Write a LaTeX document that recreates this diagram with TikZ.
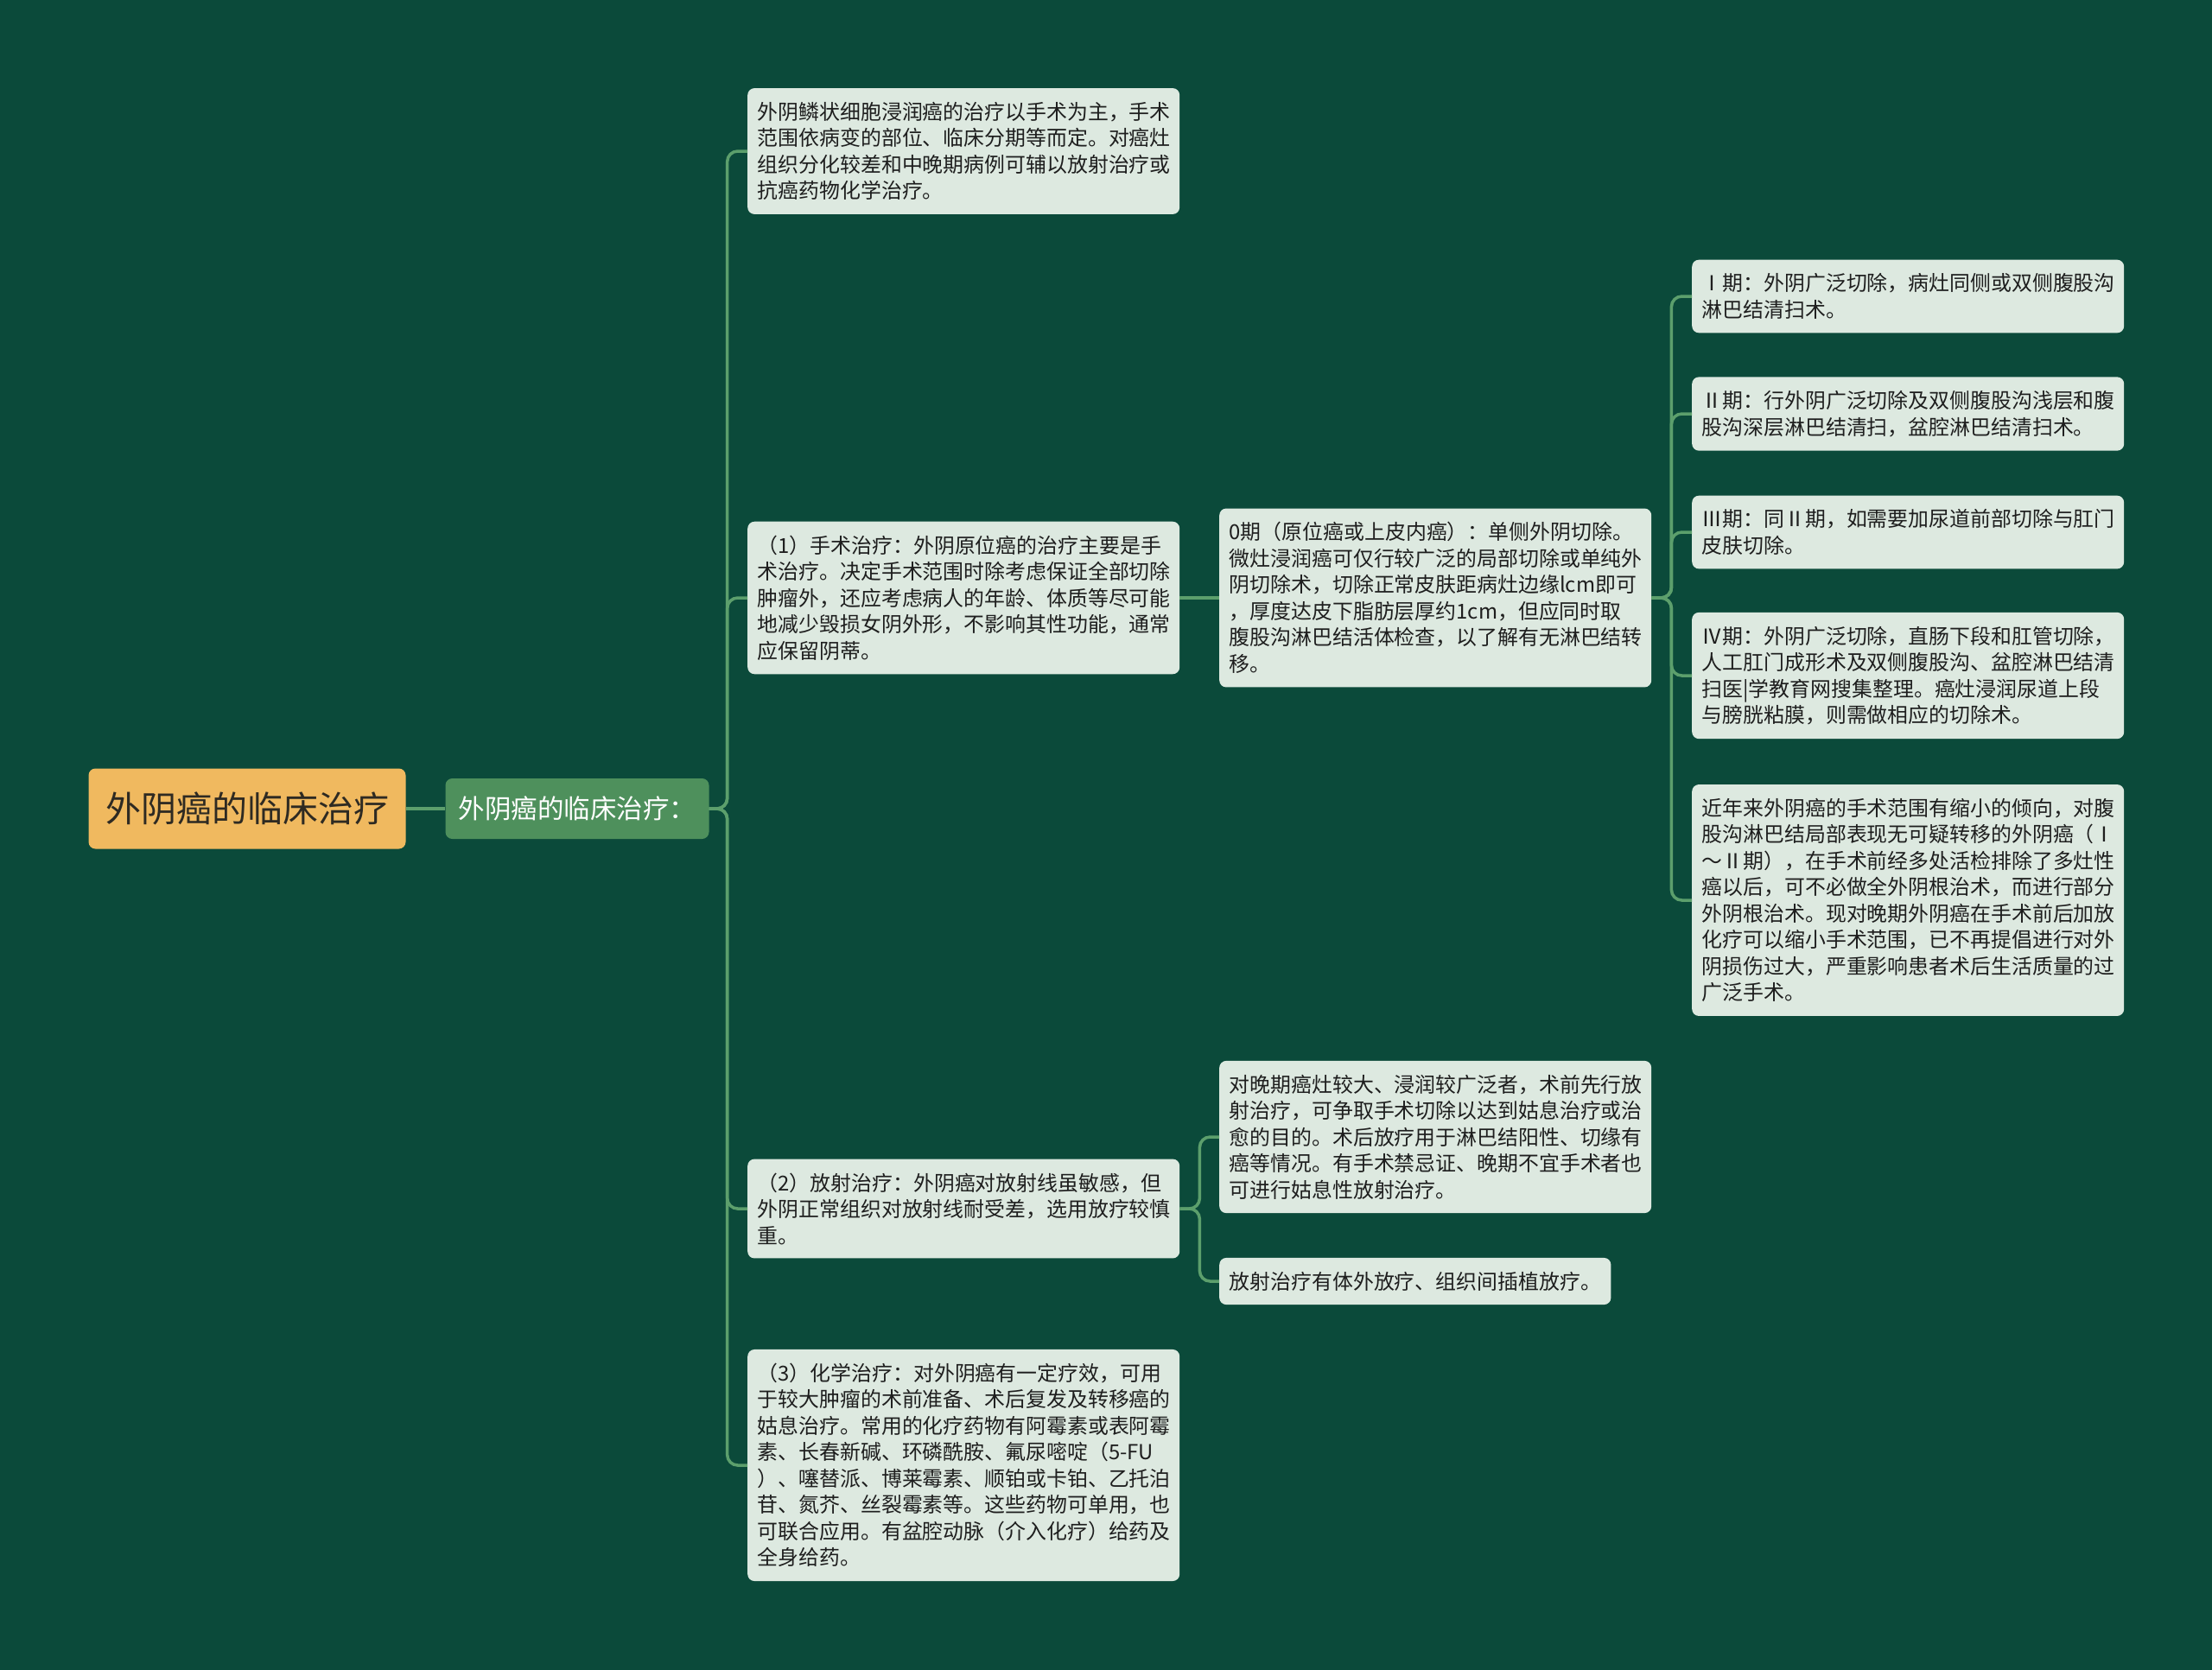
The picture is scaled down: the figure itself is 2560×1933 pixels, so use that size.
\documentclass[tikz,border=0pt]{standalone}
\usepackage{fontspec}
\setmainfont{Noto Sans CJK SC}
\usepackage{tikz}
\usetikzlibrary{positioning,calc}
\usepackage{xcolor}
\definecolor{mapbg}{HTML}{0B4A3A}
\definecolor{rootfill}{HTML}{F0B95F}
\definecolor{rootink}{HTML}{2E2A22}
\definecolor{topicfill}{HTML}{4E905C}
\definecolor{notefill}{HTML}{DDE9E0}
\definecolor{noteink}{HTML}{1E1E1E}
\definecolor{linkgreen}{HTML}{5C9F6C}

\begin{document}
\begin{tikzpicture}[
  x=1pt, y=-1pt,
  rootbox/.style={
    fill=rootfill,
    rounded corners=8pt,
    minimum width=367pt,
    minimum height=93pt,
    inner sep=0pt,
    text=rootink,
    font=\fontsize{41pt}{48pt}\selectfont
  },
  topicbox/.style={
    fill=topicfill,
    rounded corners=8pt,
    minimum width=305pt,
    minimum height=70pt,
    inner sep=0pt,
    text=white,
    font=\fontsize{30.5pt}{36pt}\selectfont
  },
  notebox/.style={
    fill=notefill,
    rounded corners=8pt,
    text=noteink,
    text width=477pt,
    inner xsep=11.5pt,
    inner ysep=16pt,
    align=left,
    anchor=west,
    font=\fontsize{23.9pt}{30.5pt}\selectfont
  },
  noteshort/.style={
    fill=notefill,
    rounded corners=8pt,
    text=noteink,
    inner xsep=11.5pt,
    inner ysep=16pt,
    anchor=west,
    font=\fontsize{23.9pt}{30.5pt}\selectfont
  },
  link/.style={
    draw=linkgreen,
    line width=3.5pt,
    rounded corners=12pt
  }
]

  % ---------------------------------------------------------------------------
  % Canvas
  % ---------------------------------------------------------------------------
  \fill[mapbg] (0,0) rectangle (2560,1933);

  % ---------------------------------------------------------------------------
  % Root and topic
  % ---------------------------------------------------------------------------
  \node[rootbox] (root) at (286,936) {外阴癌的临床治疗};
  \node[topicbox] (topic) at (668,936) {外阴癌的临床治疗：};

  % ---------------------------------------------------------------------------
  % Second level
  % ---------------------------------------------------------------------------
  \node[notebox] (principle) at (865,175) {
    外阴鳞状细胞浸润癌的治疗以手术为主，手术\\
    范围依病变的部位、临床分期等而定。对癌灶\\
    组织分化较差和中晚期病例可辅以放射治疗或\\
    抗癌药物化学治疗。};

  \node[notebox] (surgery) at (865,692) {
    （1）手术治疗：外阴原位癌的治疗主要是手\\
    术治疗。决定手术范围时除考虑保证全部切除\\
    肿瘤外，还应考虑病人的年龄、体质等尽可能\\
    地减少毁损女阴外形，不影响其性功能，通常\\
    应保留阴蒂。};

  \node[notebox] (radio) at (865,1399) {
    （2）放射治疗：外阴癌对放射线虽敏感，但\\
    外阴正常组织对放射线耐受差，选用放疗较慎\\
    重。};

  \node[notebox] (chemo) at (865,1696) {
    （3）化学治疗：对外阴癌有一定疗效，可用\\
    于较大肿瘤的术前准备、术后复发及转移癌的\\
    姑息治疗。常用的化疗药物有阿霉素或表阿霉\\
    素、长春新碱、环磷酰胺、氟尿嘧啶（5-FU\\
    ）、噻替派、博莱霉素、顺铂或卡铂、乙托泊\\
    苷、氮芥、丝裂霉素等。这些药物可单用，也\\
    可联合应用。有盆腔动脉（介入化疗）给药及\\
    全身给药。};

  % ---------------------------------------------------------------------------
  % Third level
  % ---------------------------------------------------------------------------
  \node[notebox] (stage0) at (1411,692) {
    0期（原位癌或上皮内癌）：单侧外阴切除。\\
    微灶浸润癌可仅行较广泛的局部切除或单纯外\\
    阴切除术，切除正常皮肤距病灶边缘lcm即可\\
    ，厚度达皮下脂肪层厚约1cm，但应同时取\\
    腹股沟淋巴结活体检查，以了解有无淋巴结转\\
    移。};

  \node[notebox] (radiolate) at (1411,1316) {
    对晚期癌灶较大、浸润较广泛者，术前先行放\\
    射治疗，可争取手术切除以达到姑息治疗或治\\
    愈的目的。术后放疗用于淋巴结阳性、切缘有\\
    癌等情况。有手术禁忌证、晚期不宜手术者也\\
    可进行姑息性放射治疗。};

  \node[noteshort] (radiokind) at (1411,1483) {放射治疗有体外放疗、组织间插植放疗。};

  % ---------------------------------------------------------------------------
  % Fourth level
  % ---------------------------------------------------------------------------
  \node[notebox] (stage1) at (1958,343) {
    Ⅰ期：外阴广泛切除，病灶同侧或双侧腹股沟\\
    淋巴结清扫术。};

  \node[notebox] (stage2) at (1958,479) {
    Ⅱ期：行外阴广泛切除及双侧腹股沟浅层和腹\\
    股沟深层淋巴结清扫，盆腔淋巴结清扫术。};

  \node[notebox] (stage3) at (1958,616) {
    Ⅲ期：同Ⅱ期，如需要加尿道前部切除与肛门\\
    皮肤切除。};

  \node[notebox] (stage4) at (1958,782) {
    Ⅳ期：外阴广泛切除，直肠下段和肛管切除，\\
    人工肛门成形术及双侧腹股沟、盆腔淋巴结清\\
    扫医|学教育网搜集整理。癌灶浸润尿道上段\\
    与膀胱粘膜，则需做相应的切除术。};

  \node[notebox] (trend) at (1958,1042) {
    近年来外阴癌的手术范围有缩小的倾向，对腹\\
    股沟淋巴结局部表现无可疑转移的外阴癌（Ⅰ\\
    ～Ⅱ期），在手术前经多处活检排除了多灶性\\
    癌以后，可不必做全外阴根治术，而进行部分\\
    外阴根治术。现对晚期外阴癌在手术前后加放\\
    化疗可以缩小手术范围，已不再提倡进行对外\\
    阴损伤过大，严重影响患者术后生活质量的过\\
    广泛手术。};

  % ---------------------------------------------------------------------------
  % Connectors
  % ---------------------------------------------------------------------------
  \draw[link] (root.east) -- (topic.west);

  \draw[link] (topic.east) -- ++(21,0) |- (principle.west);
  \draw[link] (topic.east) -- ++(21,0) |- (surgery.west);
  \draw[link] (topic.east) -- ++(21,0) |- (radio.west);
  \draw[link] (topic.east) -- ++(21,0) |- (chemo.west);

  \draw[link] (surgery.east) -- (stage0.west);

  \draw[link] (radio.east) -- ++(23,0) |- (radiolate.west);
  \draw[link] (radio.east) -- ++(23,0) |- (radiokind.west);

  \draw[link] (stage0.east) -- ++(23,0) |- (stage1.west);
  \draw[link] (stage0.east) -- ++(23,0) |- (stage2.west);
  \draw[link] (stage0.east) -- ++(23,0) |- (stage3.west);
  \draw[link] (stage0.east) -- ++(23,0) |- (stage4.west);
  \draw[link] (stage0.east) -- ++(23,0) |- (trend.west);

\end{tikzpicture}
\end{document}
